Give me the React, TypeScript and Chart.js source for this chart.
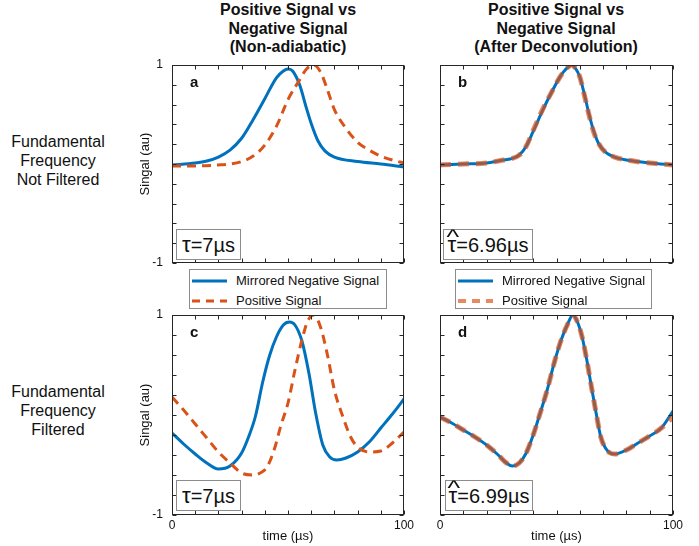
import React, { useEffect, useRef } from 'react';
import { Chart, registerables } from 'chart.js';

Chart.register(...registerables);
Chart.defaults.font.family = "'Liberation Sans', Arial, Helvetica, sans-serif";

// ---------- data ----------
const LEGEND_LABELS = ['Mirrored Negative Signal', 'Positive Signal'];
const TITLE_LEFT = ['Positive Signal vs', 'Negative Signal', '(Non-adiabatic)'];
const TITLE_RIGHT = ['Positive Signal vs', 'Negative Signal', '(After Deconvolution)'];
const ROW_TOP = ['Fundamental', 'Frequency', 'Not Filtered'];
const ROW_BOTTOM = ['Fundamental', 'Frequency', 'Filtered'];
const PANEL_LETTERS = ['a', 'b', 'c', 'd'];
const TAU_VALUES = ['=7µs', '=6.96µs', '=7µs', '=6.99µs'];
const TAU_HAT = [false, true, false, true];
const X_TICK_LABELS = [0, 100];
const Y_TICK_LABELS = [-1, 1];

// panel a
const tNegA = [0, 10, 15, 20, 25, 30, 35, 40, 45, 48, 50, 52, 55, 58, 60, 63, 66, 70, 80, 90, 100];
const negA = [-0.01, 0.01, 0.03, 0.07, 0.14, 0.26, 0.45, 0.66, 0.87, 0.94, 0.96, 0.94, 0.8, 0.56, 0.41, 0.23, 0.13, 0.07, 0.025, 0.0, -0.03];
const tPosA = [0, 10, 20, 25, 30, 35, 40, 45, 50, 55, 58, 61, 64, 67, 70, 75, 80, 85, 90, 95, 100];
const posA = [-0.02, -0.02, -0.01, 0.0, 0.025, 0.08, 0.19, 0.38, 0.65, 0.85, 0.96, 1.0, 0.93, 0.75, 0.55, 0.36, 0.22, 0.14, 0.08, 0.04, 0.01];

// panel b
const tB = [0, 10, 20, 26, 30, 34, 37, 40, 44, 48, 51, 53, 55, 56.5, 58, 60, 62, 64, 66, 68, 71, 75, 83, 90, 100];
const negB = [-0.01, 0.0, 0.01, 0.035, 0.05, 0.09, 0.18, 0.33, 0.54, 0.73, 0.86, 0.93, 0.98, 1.0, 0.97, 0.88, 0.7, 0.5, 0.33, 0.21, 0.12, 0.07, 0.03, 0.01, -0.01];
const posB = [-0.01, 0.0, 0.01, 0.035, 0.05, 0.09, 0.18, 0.34, 0.55, 0.73, 0.86, 0.93, 0.98, 1.0, 0.97, 0.88, 0.69, 0.49, 0.32, 0.21, 0.12, 0.07, 0.03, 0.01, -0.01];

// panel c
const tNegC = [0, 5, 10, 15, 20, 25, 30, 33, 36, 39, 42, 45, 48, 50.6, 53, 56, 59, 62, 65, 68, 71, 75, 80, 85, 90, 95, 100];
const negC = [-0.18, -0.29, -0.39, -0.48, -0.54, -0.51, -0.38, -0.22, -0.01, 0.32, 0.59, 0.78, 0.9, 0.93, 0.9, 0.74, 0.42, 0.01, -0.3, -0.42, -0.45, -0.43, -0.37, -0.27, -0.13, 0.01, 0.16];
const tPosC = [0, 5, 10, 15, 20, 25, 30, 35, 38, 41, 44, 47, 50, 53, 56, 58.5, 61, 64, 67, 70, 74, 77, 80, 85, 90, 95, 100];
const posC = [0.18, 0.05, -0.09, -0.23, -0.37, -0.48, -0.58, -0.6, -0.58, -0.52, -0.35, -0.1, 0.12, 0.45, 0.75, 0.94, 1.0, 0.88, 0.6, 0.25, -0.04, -0.22, -0.32, -0.37, -0.36, -0.28, -0.17];

// panel d
const tD = [0, 5, 10, 15, 20, 25, 28, 31, 34, 37, 40, 43, 46, 49, 52, 55, 57, 59, 61, 63, 65, 67, 69, 71, 73, 75, 80, 85, 90, 95, 100];
const negD = [-0.02, -0.08, -0.15, -0.22, -0.3, -0.4, -0.47, -0.51, -0.48, -0.38, -0.2, 0.02, 0.25, 0.52, 0.75, 0.92, 1.0, 0.93, 0.78, 0.55, 0.28, 0.02, -0.22, -0.33, -0.38, -0.39, -0.35, -0.28, -0.21, -0.13, 0.04];
const posD = [-0.02, -0.08, -0.15, -0.22, -0.3, -0.4, -0.47, -0.51, -0.48, -0.38, -0.2, 0.02, 0.25, 0.52, 0.75, 0.92, 1.0, 0.93, 0.78, 0.55, 0.28, 0.02, -0.22, -0.33, -0.38, -0.39, -0.35, -0.28, -0.21, -0.13, -0.02];

// ---------- styles ----------
const FONT = "'Liberation Sans', Arial, Helvetica, sans-serif";
const BLUE = '#0072BD';
const ORANGE = '#D95319';
const ORANGE_SOFT = 'rgba(217,83,25,0.68)';
const AXIS = '#262626';
const BOXGRAY = '#8c8c8c';

const framePlugin = {
  id: 'matlabFrame',
  afterDatasetsDraw(chart: any) {
    const { ctx, chartArea: a, scales } = chart;
    const xs = scales.x;
    const ys = scales.y;
    const L = 4;
    const left = Math.round(a.left) + 0.5;
    const right = Math.round(a.right) - 0.5;
    const top = Math.round(a.top) + 0.5;
    const bottom = Math.round(a.bottom) - 0.5;
    ctx.save();
    ctx.strokeStyle = AXIS;
    ctx.lineWidth = 1;
    ctx.beginPath();
    xs.ticks.forEach((t: any) => {
      const px = Math.round(xs.getPixelForValue(t.value)) + 0.5;
      ctx.moveTo(px, bottom);
      ctx.lineTo(px, bottom - L);
      ctx.moveTo(px, top);
      ctx.lineTo(px, top + L);
    });
    ys.ticks.forEach((t: any) => {
      const py = Math.round(ys.getPixelForValue(t.value)) + 0.5;
      ctx.moveTo(left, py);
      ctx.lineTo(left + L, py);
      ctx.moveTo(right, py);
      ctx.lineTo(right - L, py);
    });
    ctx.stroke();
    ctx.strokeRect(left, top, right - left, bottom - top);
    ctx.restore();
  },
};

const noOverhang = (s: any) => {
  s.paddingTop = 0;
  s.paddingBottom = 0;
  s.paddingLeft = 0;
  s.paddingRight = 0;
};

type PanelProps = {
  left: number; top: number; width: number; height: number;
  tNeg: number[]; neg: number[]; tPos: number[]; pos: number[];
  showY: boolean; showX: boolean; deconv: boolean;
};

function Panel(p: PanelProps) {
  const ref = useRef<HTMLCanvasElement>(null);
  useEffect(() => {
    const near = (v: number, w: number) => Math.abs(v - w) < 1e-6;
    const chart = new Chart(ref.current as HTMLCanvasElement, {
      type: 'line',
      data: {
        datasets: [
          {
            label: LEGEND_LABELS[1],
            data: p.tPos.map((t, i) => ({ x: t, y: p.pos[i] })),
            borderColor: p.deconv ? ORANGE_SOFT : ORANGE,
            borderWidth: p.deconv ? 5 : 3,
            borderDash: p.deconv ? [11, 7] : [9, 6],
            cubicInterpolationMode: 'monotone',
            pointRadius: 0,
            fill: false,
            order: 0,
          },
          {
            label: LEGEND_LABELS[0],
            data: p.tNeg.map((t, i) => ({ x: t, y: p.neg[i] })),
            borderColor: BLUE,
            borderWidth: 3,
            cubicInterpolationMode: 'monotone',
            pointRadius: 0,
            fill: false,
            order: 1,
          },
        ],
      } as any,
      options: {
        animation: false,
        responsive: false,
        maintainAspectRatio: false,
        layout: { padding: { top: 7, right: 10, bottom: p.showX ? 0 : 7, left: 0 } },
        plugins: { legend: { display: false }, tooltip: { enabled: false } },
        scales: {
          x: {
            type: 'linear',
            min: 0,
            max: 100,
            grid: { display: false, drawTicks: false },
            border: { display: false },
            ticks: {
              display: p.showX,
              stepSize: 10,
              autoSkip: false,
              maxRotation: 0,
              padding: 3,
              color: '#111',
              font: { size: 12, family: FONT },
              callback: (v: any) => (X_TICK_LABELS.some((w) => near(Number(v), w)) ? String(Math.round(Number(v))) : ''),
            },
            title: {
              display: p.showX,
              text: 'time (µs)',
              color: '#111',
              font: { size: 13, family: FONT },
              padding: { top: 0, bottom: 2 },
            },
            afterFit: (s: any) => { s.height = p.showX ? 31 : 0; noOverhang(s); },
          },
          y: {
            type: 'linear',
            min: -1,
            max: 1,
            grid: { display: false, drawTicks: false },
            border: { display: false },
            ticks: {
              display: p.showY,
              stepSize: 0.2,
              autoSkip: false,
              padding: 9,
              color: '#111',
              font: { size: 12, family: FONT },
              callback: (v: any) => {
                const w = Y_TICK_LABELS.find((k) => near(Number(v), k));
                return w === undefined ? '' : String(w);
              },
            },
            title: {
              display: p.showY,
              text: 'Singal (au)',
              color: '#111',
              font: { size: 13, family: FONT },
              padding: { top: 8, bottom: 0 },
            },
            afterFit: (s: any) => { s.width = p.showY ? 42 : 10; noOverhang(s); },
          },
        },
      } as any,
      plugins: [framePlugin],
    });
    return () => chart.destroy();
  }, []);
  return (
    <canvas
      ref={ref}
      width={p.width}
      height={p.height}
      style={{ position: 'absolute', left: p.left, top: p.top, width: p.width, height: p.height }}
    />
  );
}

function TextBlock({ lines, cx, top, size, bold, lh, width }: any) {
  return (
    <div
      style={{
        position: 'absolute', left: cx - width / 2, top, width, textAlign: 'center',
        fontFamily: FONT, fontSize: size, fontWeight: bold ? 700 : 400, lineHeight: lh + 'px',
        color: '#111', whiteSpace: 'nowrap',
      }}
    >
      {lines.map((l: string) => <div key={l}>{l}</div>)}
    </div>
  );
}

function LegendBox({ left, width, deconv }: any) {
  return (
    <div
      style={{
        position: 'absolute', left, top: 269, width, height: 40, boxSizing: 'border-box',
        border: '1px solid ' + BOXGRAY, background: '#fff',
      }}
    >
      {LEGEND_LABELS.map((lab, i) => (
        <div key={lab} style={{ position: 'absolute', left: 0, top: i * 20, width: '100%', height: 20 }}>
          <svg width={40} height={20} style={{ position: 'absolute', left: 2, top: 0 }}>
            <line
              x1={0} y1={11} x2={35} y2={11}
              stroke={i === 0 ? BLUE : deconv ? ORANGE_SOFT : ORANGE}
              strokeWidth={deconv && i === 1 ? 4 : 3}
              strokeDasharray={i === 0 ? undefined : '8 6'}
            />
          </svg>
          <span
            style={{
              position: 'absolute', left: 46, top: 3, fontFamily: FONT, fontSize: 13,
              lineHeight: '16px', color: '#111', whiteSpace: 'nowrap',
            }}
          >
            {lab}
          </span>
        </div>
      ))}
    </div>
  );
}

function TauBox({ left, top, width, value, hat }: any) {
  return (
    <div
      style={{
        position: 'absolute', left, top, width, height: 31, boxSizing: 'border-box',
        border: '1px solid ' + BOXGRAY, background: '#fff', fontFamily: FONT, fontSize: 20,
        lineHeight: '29px', textAlign: 'center', color: '#111', whiteSpace: 'nowrap',
      }}
    >
      <span style={{ position: 'relative', display: 'inline-block', fontSize: 22, lineHeight: '29px' }}>
        τ
        {hat ? (
          <span
            style={{
              position: 'absolute', left: 0, right: 0, top: -7, textAlign: 'center',
              fontSize: 20, lineHeight: '29px', transform: 'scaleX(1.35)',
            }}
          >
            ^
          </span>
        ) : null}
      </span>
      {value}
    </div>
  );
}

function Letter({ left, top, text }: any) {
  return (
    <div
      style={{
        position: 'absolute', left, top, fontFamily: FONT, fontSize: 15, fontWeight: 700,
        lineHeight: '16px', color: '#111',
      }}
    >
      {text}
    </div>
  );
}

export default function App() {
  return (
    <div style={{ position: 'absolute', left: 0, top: 0, width: 699, height: 546, background: '#fff', overflow: 'hidden' }}>
      <TextBlock lines={TITLE_LEFT} cx={288} top={1} size={16} bold lh={18.5} width={260} />
      <TextBlock lines={TITLE_RIGHT} cx={556} top={1} size={16} bold lh={18.5} width={260} />
      <TextBlock lines={ROW_TOP} cx={58} top={132} size={16} lh={19} width={116} />
      <TextBlock lines={ROW_BOTTOM} cx={58} top={382} size={16} lh={19} width={116} />

      <Panel left={130} top={58} width={284} height={212} tNeg={tNegA} neg={negA} tPos={tPosA} pos={posA} showY showX={false} deconv={false} />
      <Panel left={430} top={58} width={253} height={212} tNeg={tB} neg={negB} tPos={tB} pos={posB} showY={false} showX={false} deconv />
      <Panel left={130} top={308} width={284} height={238} tNeg={tNegC} neg={negC} tPos={tPosC} pos={posC} showY showX deconv={false} />
      <Panel left={430} top={308} width={253} height={238} tNeg={tD} neg={negD} tPos={tD} pos={posD} showY={false} showX deconv />

      <Letter left={190} top={74} text={PANEL_LETTERS[0]} />
      <Letter left={458} top={74} text={PANEL_LETTERS[1]} />
      <Letter left={190} top={324} text={PANEL_LETTERS[2]} />
      <Letter left={458} top={324} text={PANEL_LETTERS[3]} />

      <TauBox left={176} top={229} width={65} value={TAU_VALUES[0]} hat={TAU_HAT[0]} />
      <TauBox left={443} top={229} width={90} value={TAU_VALUES[1]} hat={TAU_HAT[1]} />
      <TauBox left={176} top={480} width={65} value={TAU_VALUES[2]} hat={TAU_HAT[2]} />
      <TauBox left={445} top={480} width={88} value={TAU_VALUES[3]} hat={TAU_HAT[3]} />

      <LegendBox left={189} width={198} deconv={false} />
      <LegendBox left={455} width={197} deconv />
    </div>
  );
}
